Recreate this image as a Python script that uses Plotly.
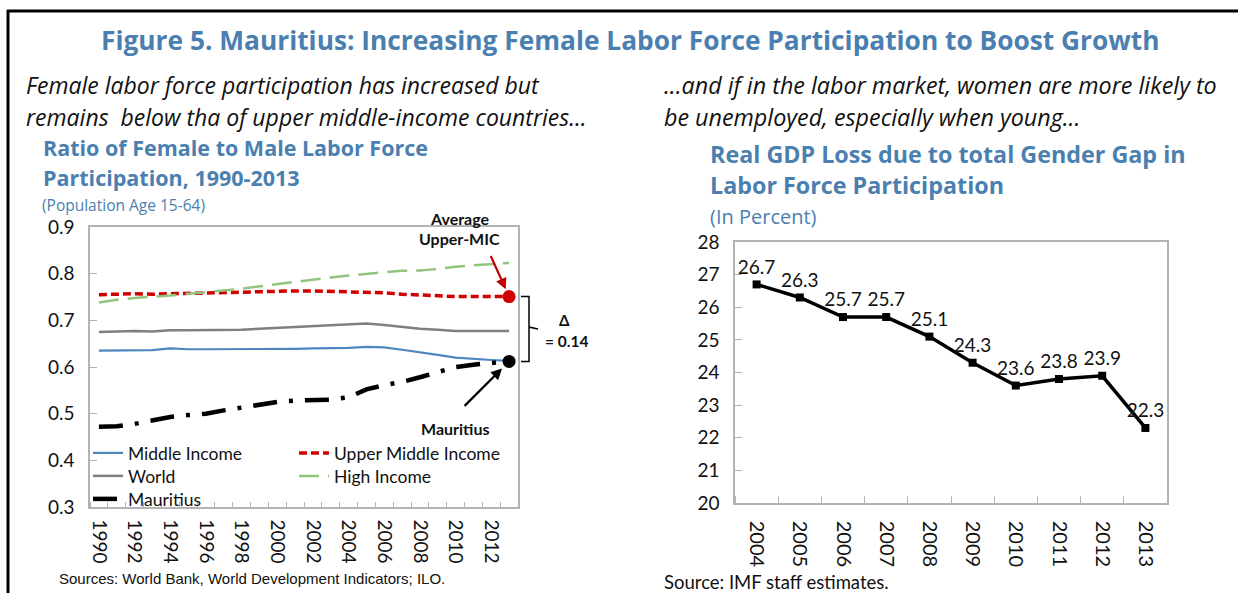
import plotly.graph_objects as go

# ---------------- data ----------------
years_left = list(range(1990, 2014))
middle_income = [0.635, 0.635, 0.636, 0.636, 0.640, 0.638, 0.638, 0.638, 0.638, 0.638, 0.638, 0.639, 0.640, 0.640, 0.641, 0.643, 0.642, 0.637, 0.632, 0.626, 0.620, 0.617, 0.615, 0.613]
upper_middle = [0.755, 0.756, 0.757, 0.756, 0.757, 0.758, 0.759, 0.760, 0.761, 0.762, 0.763, 0.763, 0.763, 0.762, 0.760, 0.760, 0.759, 0.756, 0.754, 0.752, 0.751, 0.751, 0.751, 0.751]
world = [0.675, 0.676, 0.677, 0.676, 0.679, 0.679, 0.679, 0.680, 0.680, 0.682, 0.684, 0.686, 0.687, 0.689, 0.691, 0.693, 0.690, 0.686, 0.682, 0.680, 0.677, 0.677, 0.677, 0.677]
high_income = [0.738, 0.744, 0.748, 0.750, 0.753, 0.757, 0.760, 0.764, 0.768, 0.773, 0.778, 0.783, 0.787, 0.792, 0.796, 0.800, 0.803, 0.806, 0.807, 0.810, 0.815, 0.818, 0.820, 0.823]
mauritius = [0.472, 0.473, 0.478, 0.485, 0.493, 0.497, 0.500, 0.507, 0.513, 0.519, 0.525, 0.528, 0.530, 0.530, 0.535, 0.552, 0.561, 0.568, 0.578, 0.590, 0.600, 0.605, 0.608, 0.612]
left_tick_years = list(range(1990, 2013, 2))
left_yticks = [0.3, 0.4, 0.5, 0.6, 0.7, 0.8, 0.9]

years_right = list(range(2004, 2014))
gdp_loss = [26.7, 26.3, 25.7, 25.7, 25.1, 24.3, 23.6, 23.8, 23.9, 22.3]
right_yticks = list(range(20, 29))

# ---------------- styles ----------------
W, H = 1238, 593
BLUE_T = "#4a7fb0"
FONT = "Lato"
HFONT = "Open Sans"

def px(x):
    return x / W

def py(y):
    return 1 - y / H

fig = go.Figure()

fig.add_trace(go.Scatter(x=years_left, y=middle_income, mode="lines", name="Middle Income", legend="legend",
                         line=dict(color="#4f86c0", width=2.2), xaxis="x", yaxis="y"))
fig.add_trace(go.Scatter(x=years_left, y=upper_middle, mode="lines", name="Upper Middle Income", legend="legend2",
                         line=dict(color="#d00000", width=3.5, dash="8px,4px"), xaxis="x", yaxis="y"))
fig.add_trace(go.Scatter(x=years_left, y=world, mode="lines", name="World", legend="legend3",
                         line=dict(color="#7f7f7f", width=2.5), xaxis="x", yaxis="y"))
fig.add_trace(go.Scatter(x=years_left, y=high_income, mode="lines", name="High Income", legend="legend4",
                         line=dict(color="#93c47d", width=2.5, dash="20px,9px"), xaxis="x", yaxis="y"))
fig.add_trace(go.Scatter(x=years_left, y=mauritius, mode="lines", name="Mauritius", legend="legend5",
                         line=dict(color="#000000", width=4.5, dash="24px,12px,4px,12px"), xaxis="x", yaxis="y"))
# end-point dots
fig.add_trace(go.Scatter(x=[years_left[-1]], y=[upper_middle[-1]], mode="markers", showlegend=False,
                         marker=dict(color="#d00000", size=13), xaxis="x", yaxis="y"))
fig.add_trace(go.Scatter(x=[years_left[-1]], y=[mauritius[-1]], mode="markers", showlegend=False,
                         marker=dict(color="#000000", size=13), xaxis="x", yaxis="y"))

# right chart
fig.add_trace(go.Scatter(x=years_right, y=gdp_loss, mode="lines+markers+text", showlegend=False,
                         text=[f"{v:.1f}" for v in gdp_loss], textposition="top center",
                         textfont=dict(family=FONT, size=19, color="#111111"),
                         line=dict(color="#000000", width=3.5),
                         marker=dict(symbol="square", size=8, color="#000000"),
                         xaxis="x2", yaxis="y2"))

axis_common = dict(showgrid=False, zeroline=False, showline=True, linecolor="#b3b3b3",
                   linewidth=1.5, mirror=True, automargin=False)

legend_common = dict(orientation="v", yanchor="middle", xanchor="left", bgcolor="rgba(0,0,0,0)",
                     font=dict(size=17.5, family=FONT, color="#111111"), tracegroupgap=0,
                     itemwidth=30, borderwidth=0)

col1, col2 = 88, 294
row1, row2, row3 = 453, 476, 499

fig.update_layout(
    width=W, height=H, autosize=False,
    margin=dict(l=0, r=0, t=0, b=0, pad=0, autoexpand=False),
    paper_bgcolor="white", plot_bgcolor="white",
    font=dict(family=FONT, color="#111111"),
    xaxis=dict(domain=[px(90), px(518)], range=[1989.5, 2013.5],
               tickmode="array", tickvals=left_tick_years, ticktext=[str(y) for y in left_tick_years],
               tickangle=90, ticks="", tickfont=dict(size=19, family=FONT), ticklabelstandoff=7,
               minor=dict(ticks="inside", tick0=1989.5, dtick=1, ticklen=5, tickcolor="#b3b3b3"),
               **axis_common),
    yaxis=dict(domain=[py(507), py(227)], range=[0.3, 0.9],
               tickmode="array", tickvals=left_yticks, ticktext=[f"{v:.1f}" for v in left_yticks],
               ticks="inside", ticklen=7, tickcolor="#b3b3b3", ticklabelstandoff=10,
               tickfont=dict(size=19, family=FONT), **axis_common),
    xaxis2=dict(domain=[px(735), px(1167)], range=[2003.5, 2013.5], anchor="y2",
                tickmode="array", tickvals=years_right, ticktext=[str(y) for y in years_right],
                tickangle=90, ticks="", tickfont=dict(size=20, family=FONT), ticklabelstandoff=12,
                minor=dict(ticks="inside", tick0=2003.5, dtick=1, ticklen=7, tickcolor="#b3b3b3"),
                **axis_common),
    yaxis2=dict(domain=[py(503), py(242)], range=[20, 28], anchor="x2",
                tickmode="array", tickvals=right_yticks, ticktext=[str(v) for v in right_yticks],
                ticks="inside", ticklen=7, tickcolor="#b3b3b3", ticklabelstandoff=10,
                tickfont=dict(size=19, family=FONT), **axis_common),
    legend=dict(x=px(col1), y=py(row1), **legend_common),
    legend2=dict(x=px(col2), y=py(row1), **legend_common),
    legend3=dict(x=px(col1), y=py(row2), **legend_common),
    legend4=dict(x=px(col2), y=py(row2), **legend_common),
    legend5=dict(x=px(col1), y=py(row3), **legend_common),
)

ann = []

def text(x, y, s, size, color="#111111", bold=False, italic=False, xanchor="left", family=FONT):
    if bold:
        s = f"<b>{s}</b>"
    if italic:
        s = f"<i>{s}</i>"
    ann.append(dict(x=px(x), y=py(y), xref="paper", yref="paper", text=s, showarrow=False,
                    xanchor=xanchor, yanchor="middle", font=dict(size=size, color=color, family=family)))

text(630, 40, "Figure 5. Mauritius: Increasing Female Labor Force Participation to Boost Growth", 26.3, BLUE_T, bold=True, xanchor="center", family=HFONT)
text(24, 85, "Female labor force participation has increased but", 23, italic=True, family=HFONT)
text(24, 117, "remains  below tha of upper middle-income countries...", 23, italic=True, family=HFONT)
text(662, 85, "...and if in the labor market, women are more likely to", 23.3, italic=True, family=HFONT)
text(662, 117, "be unemployed, especially when young...", 23.3, italic=True, family=HFONT)
text(41, 147.5, "Ratio of Female to Male Labor Force", 21.5, BLUE_T, bold=True, family=HFONT)
text(41, 177.5, "Participation, 1990-2013", 21.5, BLUE_T, bold=True, family=HFONT)
text(40, 204.5, "(Population Age 15-64)", 15.5, BLUE_T, family=HFONT)
text(708, 154, "Real GDP Loss due to total Gender Gap in", 23.3, BLUE_T, bold=True, family=HFONT)
text(708, 185, "Labor Force Participation", 23.3, BLUE_T, bold=True, family=HFONT)
text(708, 216, "(In Percent)", 20, BLUE_T, family=HFONT)
text(460, 218, "Average", 16, bold=True, xanchor="center")
text(460, 238, "Upper-MIC", 16, bold=True, xanchor="center")
text(455, 428, "Mauritius", 16, bold=True, xanchor="center")
text(564, 320, "Δ", 15, bold=True, xanchor="center")
text(566, 341, "= 0.14", 15.5, bold=True, xanchor="center")
text(57, 578, "Sources: World Bank, World Development Indicators; ILO.", 15, family="Liberation Sans")
text(662, 582, "Source: IMF staff estimates.", 18.5)

# arrows
ann.append(dict(x=years_left[-1], y=upper_middle[-1], xref="x", yref="y", ax=-19, ay=-42,
                text="", showarrow=True, arrowhead=2, arrowsize=1,
                arrowwidth=2.2, arrowcolor="#c00000", standoff=8))
ann.append(dict(x=years_left[-1], y=mauritius[-1], xref="x", yref="y", ax=-46, ay=46,
                text="", showarrow=True, arrowhead=2, arrowsize=1,
                arrowwidth=2.2, arrowcolor="#000000", standoff=10))

fig.update_layout(annotations=ann)

# bracket for the gap
top_v, bot_v = upper_middle[-1], mauritius[-1]
mid_v = (top_v + bot_v) / 2
x0, x1, x2 = px(521), px(529), px(538)
fig.add_shape(type="path", xref="paper", yref="y",
              path=(f"M {x0} {top_v} L {x1} {top_v} L {x1} {mid_v + 0.004} L {x2} {mid_v} "
                    f"M {x1} {mid_v - 0.004} L {x1} {bot_v} L {x0} {bot_v} M {x1} {mid_v + 0.004} L {x1} {mid_v - 0.004}"),
              line=dict(color="#000000", width=1.5))
fig.add_shape(type="line", xref="paper", yref="paper", x0=px(7), x1=1, y0=py(11), y1=py(11),
              line=dict(color="#000000", width=3))
fig.add_shape(type="line", xref="paper", yref="paper", x0=px(8), x1=px(8), y0=py(10), y1=0,
              line=dict(color="#000000", width=3))

fig.write_html("out.html", config={"displayModeBar": False},
               post_script="document.body.style.margin='0';document.body.style.overflow='hidden';")
